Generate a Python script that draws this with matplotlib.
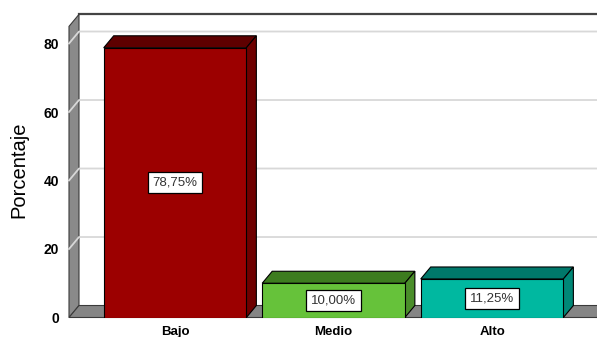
import matplotlib.pyplot as plt
from matplotlib.patches import Polygon

plt.rcParams['font.family'] = ['Liberation Sans', 'DejaVu Sans']

categorias = ["Bajo", "Medio", "Alto"]
porcentajes = [78.75, 10.00, 11.25]
etiquetas = ["78,75%", "10,00%", "11,25%"]
ticks_y = [0, 20, 40, 60, 80]

color_frente = ["#9c0000", "#66c23a", "#00b8a0"]
color_tapa = ["#5e0000", "#3d7c1f", "#00786a"]
color_lado = ["#6e0000", "#4a8e2a", "#008877"]

# depth of the fake 3d box, in data units
dx, dy = 0.063, 3.5
x0, x1 = -0.669, 2.599
ytop = 85
ancho = 0.90

fig = plt.figure(figsize=(5.97, 3.37), dpi=100)
ax = fig.add_axes([69 / 597, 19.5 / 337, (587 - 69) / 597, ytop * 3.425 / 337])
ax.set_xlim(x0, x1)
ax.set_ylim(0, ytop)
for s in ax.spines.values():
    s.set_visible(False)

# back wall
ax.add_patch(Polygon([(x0 + dx, dy), (x1 + 2 * dx, dy), (x1 + 2 * dx, ytop + dy), (x0 + dx, ytop + dy)],
                     facecolor="white", edgecolor="none", clip_on=False, zorder=0))
ax.plot([x0 + dx, x1 + 2 * dx], [ytop + dy, ytop + dy], color="#444444", lw=1.6, clip_on=False, zorder=1)

# left wall
ax.add_patch(Polygon([(x0, 0), (x0 + dx, dy), (x0 + dx, ytop + dy), (x0, ytop)],
                     facecolor="#8a8a8a", edgecolor="#3a3a3a", lw=0.8, clip_on=False, zorder=1))

# grid lines on back wall and across the left wall
for v in ticks_y[1:]:
    ax.plot([x0, x0 + dx, x1 + 2 * dx], [v, v + dy, v + dy], color="#d8d8d8", lw=1.3,
            clip_on=False, zorder=2)

# floor
ax.add_patch(Polygon([(x0, 0), (x1 + dx, 0), (x1 + 2 * dx, dy), (x0 + dx, dy)],
                     facecolor="#858585", edgecolor="#3a3a3a", lw=0.8, clip_on=False, zorder=2))

# bars
xs = list(range(len(categorias)))
barras = ax.bar(xs, porcentajes, width=ancho, color=color_frente, edgecolor="black", lw=0.8, zorder=5)
for i, (b, h) in enumerate(zip(barras, porcentajes)):
    l = b.get_x()
    r = l + b.get_width()
    ax.add_patch(Polygon([(l, h), (r, h), (r + dx, h + dy), (l + dx, h + dy)],
                         facecolor=color_tapa[i], edgecolor="black", lw=0.8, zorder=4))
    ax.add_patch(Polygon([(r, 0), (r + dx, dy), (r + dx, h + dy), (r, h)],
                         facecolor=color_lado[i], edgecolor="black", lw=0.8, zorder=4))
    ax.text(i, h / 2, etiquetas[i], ha="center", va="center", fontsize=9.5, color="#333333", zorder=6,
            bbox=dict(boxstyle="square,pad=0.35", facecolor="white", edgecolor="black", lw=0.9))

ax.set_yticks(ticks_y)
ax.set_yticklabels([str(t) for t in ticks_y], fontweight="bold", fontsize=10)
ax.set_xticks(xs)
ax.set_xticklabels(categorias, fontweight="bold", fontsize=9.5)
ax.tick_params(axis="y", length=0, pad=7)
ax.tick_params(axis="x", length=0, pad=6)

fig.text(19 / 597, 1 - 170 / 337, "Porcentaje", rotation=90, ha="center", va="center", fontsize=14.5)

fig.savefig("out.png", dpi=100)
